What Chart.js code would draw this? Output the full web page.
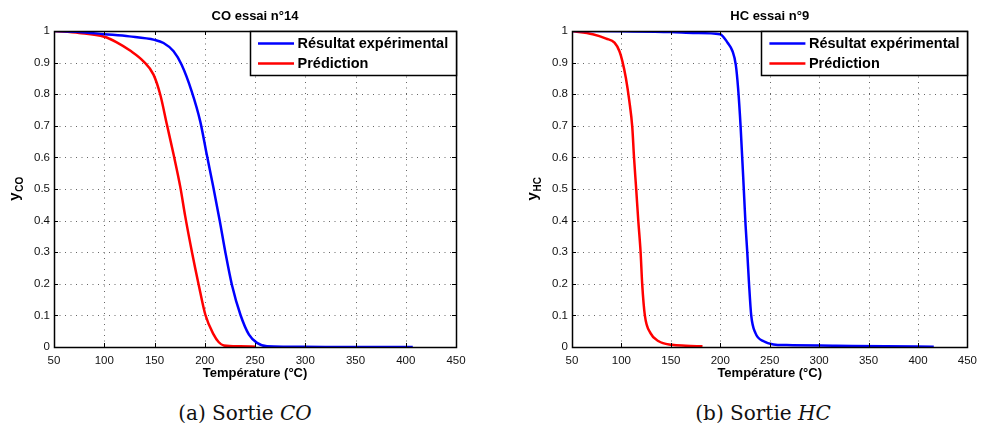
<!DOCTYPE html>
<html>
<head>
<meta charset="utf-8">
<script src="https://cdn.jsdelivr.net/npm/chart.js@4.4.1/dist/chart.umd.min.js"></script>
<style>
  body { margin: 0; background: #fff; width: 984px; height: 423px; position: relative; overflow: hidden; }
  canvas { position: absolute; top: 0; }
  .caption { position: absolute; top: 400px; line-height: 26px; font-family: "DejaVu Serif", "Liberation Serif", serif; font-size: 20px; color: #111; transform: translateX(-50%); white-space: nowrap; }
</style>
</head>
<body>
<canvas id="chart-co" width="492" height="385" style="left:0"></canvas>
<canvas id="chart-hc" width="492" height="385" style="left:492px"></canvas>
<div class="caption" style="left:245px">(a) Sortie <i>CO</i></div>
<div class="caption" style="left:763px">(b) Sortie <i>HC</i></div>
<script>
// CO essai n°14
const coExpT = [50, 75, 100, 125, 150, 159, 169, 177, 187, 195.5, 202, 208.5, 215, 220.5, 227, 235.5, 244, 252, 262, 280, 320, 407];
const coExpY = [1.0, 0.997, 0.99, 0.983, 0.972, 0.962, 0.936, 0.893, 0.809, 0.714, 0.609, 0.506, 0.398, 0.30, 0.197, 0.102, 0.039, 0.013, 0.002, 0.001, 0, 0];
const coPredT = [50, 75, 100, 112, 125.7, 139, 149, 155.7, 162.4, 169, 175.7, 180.5, 187.3, 193.9, 200.6, 208.9, 214, 219, 235, 251];
const coPredY = [1.0, 0.994, 0.982, 0.965, 0.938, 0.904, 0.862, 0.799, 0.703, 0.609, 0.506, 0.415, 0.30, 0.198, 0.102, 0.039, 0.015, 0.005, 0.002, 0.001];

// HC essai n°9
const hcExpT = [50, 100, 150, 175, 199.7, 207.4, 212.4, 215.7, 218, 220.6, 224.3, 225.6, 227.3, 229, 231.3, 235.6, 243.9, 253.9, 267, 317, 367, 416];
const hcExpY = [1.0, 0.999, 0.997, 0.994, 0.99, 0.963, 0.936, 0.893, 0.82, 0.696, 0.467, 0.385, 0.30, 0.205, 0.10, 0.044, 0.018, 0.008, 0.006, 0.004, 0.002, 0.001];
const hcPredT = [50, 71, 84.6, 93, 98, 101, 104.5, 108, 111, 112.7, 115, 117, 119.4, 121, 123.7, 129.4, 137.7, 151, 165, 182];
const hcPredY = [1.0, 0.99, 0.976, 0.963, 0.936, 0.904, 0.851, 0.778, 0.695, 0.602, 0.497, 0.402, 0.30, 0.20, 0.10, 0.044, 0.018, 0.007, 0.004, 0.002];

const seriesLabels = ['Résultat expérimental', 'Prédiction'];
const seriesColors = ['#0000ff', '#ff0000'];
const xMin = 50, xMax = 450, xStep = 50;
const yMin = 0, yMax = 1, yStep = 0.1;

const SANS = '"Liberation Sans", Arial, Helvetica, sans-serif';

function toPoints(xs, ys) {
    return xs.map((x, i) => ({ x: x, y: ys[i] }));
}

// MATLAB-like dotted grid, frame, inward ticks, boxed legend, title and y label with subscript
const matlabDecor = {
    id: 'matlabDecor',
    beforeDatasetsDraw(chart) {
        const ctx = chart.ctx;
        const a = chart.chartArea;
        const xs = chart.scales.x, ys = chart.scales.y;
        ctx.save();
        ctx.strokeStyle = '#666';
        ctx.lineWidth = 1;
        ctx.setLineDash([1, 4.5]);
        ctx.beginPath();
        xs.ticks.forEach(t => {
            if (t.value === xs.min || t.value === xs.max) return;
            const px = Math.round(xs.getPixelForValue(t.value)) + 0.5;
            ctx.moveTo(px, a.bottom); ctx.lineTo(px, a.top);
        });
        ys.ticks.forEach(t => {
            if (t.value === ys.min || t.value === ys.max) return;
            const py = Math.round(ys.getPixelForValue(t.value)) + 0.5;
            ctx.moveTo(a.left, py); ctx.lineTo(a.right, py);
        });
        ctx.stroke();
        ctx.restore();
    },
    afterDraw(chart) {
        const ctx = chart.ctx;
        const a = chart.chartArea;
        const o = chart.options.plugins.matlabDecor;
        const xs = chart.scales.x, ys = chart.scales.y;
        ctx.save();

        // tick marks pointing inward
        ctx.strokeStyle = '#000';
        ctx.lineWidth = 1;
        ctx.beginPath();
        xs.ticks.forEach(t => {
            const px = Math.round(xs.getPixelForValue(t.value)) + 0.5;
            ctx.moveTo(px, a.bottom); ctx.lineTo(px, a.bottom - 4);
            ctx.moveTo(px, a.top); ctx.lineTo(px, a.top + 4);
        });
        ys.ticks.forEach(t => {
            const py = Math.round(ys.getPixelForValue(t.value)) + 0.5;
            ctx.moveTo(a.left, py); ctx.lineTo(a.left + 4, py);
            ctx.moveTo(a.right, py); ctx.lineTo(a.right - 4, py);
        });
        ctx.stroke();

        // frame
        ctx.lineWidth = 1.5;
        ctx.strokeRect(Math.round(a.left) + 0.5, Math.round(a.top) + 0.5,
            Math.round(a.right - a.left), Math.round(a.bottom - a.top));

        // legend box
        const lw = 206, lh = 44;
        const lx = a.right - lw, ly = a.top;
        ctx.fillStyle = '#fff';
        ctx.fillRect(lx, ly, lw, lh);
        ctx.strokeRect(Math.round(lx) + 0.5, Math.round(ly) + 0.5, lw, lh);
        ctx.font = 'bold 14.5px ' + SANS;
        ctx.textBaseline = 'middle';
        ctx.textAlign = 'left';
        chart.data.datasets.forEach((ds, i) => {
            const yy = ly + 12.5 + i * 20;
            ctx.strokeStyle = ds.borderColor;
            ctx.lineWidth = 2.5;
            ctx.beginPath();
            ctx.moveTo(lx + 8, yy); ctx.lineTo(lx + 44, yy);
            ctx.stroke();
            ctx.fillStyle = '#000';
            ctx.fillText(ds.label, lx + 47.5, yy + 0.5);
        });

        // title
        ctx.fillStyle = '#000';
        ctx.font = 'bold 13px ' + SANS;
        ctx.textAlign = 'center';
        ctx.fillText(o.title, (a.left + a.right) / 2, 16.5);

        // y label: y with subscript
        ctx.translate(a.left - 37, (a.top + a.bottom) / 2);
        ctx.rotate(-Math.PI / 2);
        ctx.font = 'bold 15px ' + SANS;
        const w1 = ctx.measureText('y').width;
        ctx.font = 'bold 10px ' + SANS;
        const w2 = ctx.measureText(o.sub).width;
        const x0 = -(w1 + w2) / 2;
        ctx.textAlign = 'left';
        ctx.textBaseline = 'alphabetic';
        ctx.font = 'bold 15px ' + SANS;
        ctx.fillText('y', x0, 2);
        ctx.font = 'bold 10px ' + SANS;
        ctx.fillText(o.sub, x0 + w1 + 0.5, 6);
        ctx.restore();
    }
};

function makeChart(id, title, sub, expT, expY, predT, predY, padLeft, padRight) {
    return new Chart(document.getElementById(id), {
        type: 'line',
        data: {
            datasets: [
                { label: seriesLabels[0], data: toPoints(expT, expY), borderColor: seriesColors[0], backgroundColor: seriesColors[0] },
                { label: seriesLabels[1], data: toPoints(predT, predY), borderColor: seriesColors[1], backgroundColor: seriesColors[1] }
            ]
        },
        options: {
            responsive: false,
            animation: false,
            devicePixelRatio: 1,
            layout: { padding: { left: padLeft, right: padRight, top: 31, bottom: 0 } },
            elements: {
                point: { radius: 0 },
                line: { borderWidth: 2.5, cubicInterpolationMode: 'monotone', fill: false }
            },
            scales: {
                x: {
                    type: 'linear', min: xMin, max: xMax,
                    afterFit: s => { s.height = 38; },
                    ticks: { stepSize: xStep, padding: 7, color: '#111', font: { family: SANS, size: 11.5 }, maxRotation: 0 },
                    grid: { display: false, drawTicks: false },
                    border: { display: false },
                    title: { display: true, text: 'Température (°C)', color: '#000', font: { family: SANS, size: 13, weight: 'bold' }, padding: { top: 0, bottom: 4 } }
                },
                y: {
                    type: 'linear', min: yMin, max: yMax,
                    afterFit: s => { s.width = 54; },
                    ticks: { stepSize: yStep, padding: 4, color: '#111', font: { family: SANS, size: 11.5 },
                        callback: v => String(Math.round(v * 10) / 10) },
                    grid: { display: false, drawTicks: false },
                    border: { display: false }
                }
            },
            plugins: {
                legend: { display: false },
                tooltip: { enabled: false },
                matlabDecor: { title: title, sub: sub }
            }
        },
        plugins: [matlabDecor]
    });
}

makeChart('chart-co', 'CO essai n°14', 'CO', coExpT, coExpY, coPredT, coPredY, 0, 36);
makeChart('chart-hc', 'HC essai n°9', 'HC', hcExpT, hcExpY, hcPredT, hcPredY, 26, 10);
</script>
</body>
</html>
